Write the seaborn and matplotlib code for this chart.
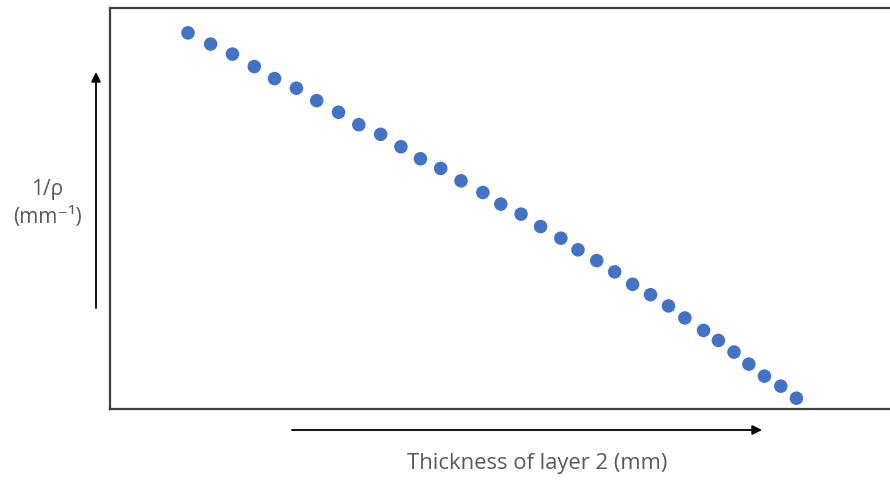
import matplotlib
matplotlib.use('Agg')
import matplotlib.pyplot as plt
import seaborn as sns
import pandas as pd

# thickness of layer 2 vs 1/rho (arbitrary units, no scale shown)
thickness = [10.0, 12.9, 15.7, 18.5, 21.1, 23.9, 26.5, 29.3, 31.9, 34.7, 37.3,
             39.8, 42.4, 45.0, 47.8, 50.1, 52.7, 55.2, 57.8, 60.0, 62.4, 64.7,
             67.0, 69.3, 71.6, 73.7, 76.1, 78.0, 80.0, 81.9, 83.9, 86.0, 88.0]
inv_rho = [93.8, 91.0, 88.5, 85.4, 82.4, 80.0, 76.9, 74.0, 70.9, 68.5, 65.4,
           62.4, 60.0, 56.9, 54.0, 51.1, 48.6, 45.5, 42.6, 39.7, 37.0, 34.2,
           31.1, 28.5, 25.7, 22.7, 19.6, 17.1, 14.2, 11.2, 8.2, 5.7, 2.7]

df = pd.DataFrame({'thickness': thickness, 'inv_rho': inv_rho})

sns.set_style('white')
plt.rcParams['font.family'] = ['Open Sans', 'DejaVu Sans']

fig = plt.figure(figsize=(8.9, 4.82), dpi=100)
ax = fig.add_axes([110 / 890, 73 / 482, 780 / 890, 401 / 482])

sns.scatterplot(data=df, x='thickness', y='inv_rho', color='#4472C4', s=95,
                edgecolor='none', ax=ax)
ax.set_xlim(0, 100)
ax.set_ylim(0, 100)
ax.set_xticks([])
ax.set_yticks([])
ax.set_xlabel('')
ax.set_ylabel('')
for sp in ax.spines.values():
    sp.set_color('#404040')
    sp.set_linewidth(1.6)
ax.spines['right'].set_visible(False)

# axis arrows drawn in figure pixels
arrow = dict(arrowstyle='-|>', color='black', lw=1.3, mutation_scale=14,
             shrinkA=0, shrinkB=0)
ax.annotate('', xy=(96 / 890, 1 - 72 / 482), xytext=(96 / 890, 1 - 308 / 482),
            xycoords='figure fraction', textcoords='figure fraction', arrowprops=arrow)
ax.annotate('', xy=(762 / 890, 1 - 430 / 482), xytext=(292 / 890, 1 - 430 / 482),
            xycoords='figure fraction', textcoords='figure fraction', arrowprops=arrow)

fig.text(537 / 890, 1 - 463 / 482, 'Thickness of layer 2 (mm)', ha='center',
         va='center', fontsize=15.8, color='#595959')
fig.text(47 / 890, 1 - 190 / 482, '1/ρ', ha='center', va='center',
         fontsize=15, color='#595959')
fig.text(47 / 890, 1 - 218 / 482, '(mm⁻¹)', ha='center', va='center',
         fontsize=15, color='#595959')

fig.savefig('out.png', dpi=100)
